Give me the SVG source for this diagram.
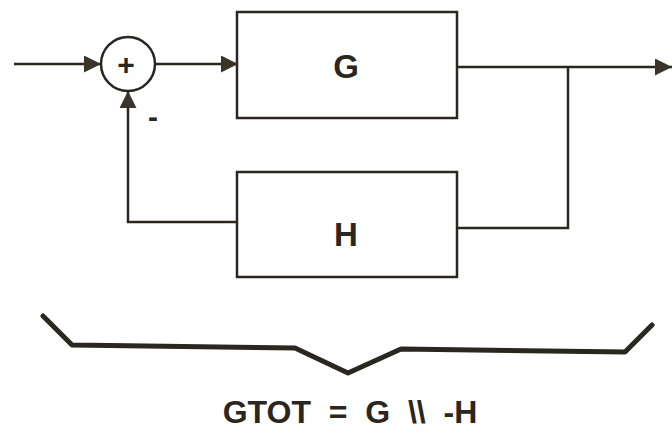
<svg xmlns="http://www.w3.org/2000/svg" width="672" height="433" viewBox="0 0 672 433">
<defs>
<marker id="arr" viewBox="0 0 10 10" refX="10" refY="5" markerWidth="18" markerHeight="17" markerUnits="userSpaceOnUse" orient="auto">
<path d="M0,0 L10,5 L0,10 z" fill="#3a3528"/>
</marker>
<style>
.ln{fill:none;stroke:#2a2620;stroke-width:2.5}
.bx{fill:#fff;stroke:#2a2620;stroke-width:2.5}
.t{font-family:"Liberation Sans",Arial,sans-serif;font-weight:bold;fill:#2a2620;text-anchor:middle}
</style>
</defs>
<rect width="672" height="433" fill="#fff"/>
<g id="connectors">
<line class="ln" x1="14" y1="64" x2="101" y2="64" marker-end="url(#arr)"/>
<line class="ln" x1="156" y1="64" x2="238" y2="64" marker-end="url(#arr)"/>
<line class="ln" x1="457" y1="67" x2="672" y2="67" marker-end="url(#arr)"/>
<polyline class="ln" points="568,67 568,228 457,228"/>
<polyline class="ln" points="237,222 128,222 128,91" marker-end="url(#arr)"/>
</g>
<g id="sum">
<circle class="ln" cx="128" cy="64" r="27"/>
<text class="t" x="126" y="75" font-size="30">+</text>
<text class="t" x="153" y="127" font-size="30">-</text>
</g>
<g id="G">
<rect class="bx" x="237" y="12" width="220" height="106"/>
<text class="t" x="346" y="78" font-size="33">G</text>
</g>
<g id="H">
<rect class="bx" x="237" y="172" width="220" height="105"/>
<text class="t" x="346" y="246" font-size="33">H</text>
</g>
<g id="brace">
<polyline points="43,316 72,345 295,348 348,373 401,349 625,352 652,325" fill="none" stroke="#2a2620" stroke-width="5" stroke-linejoin="round" stroke-linecap="round"/>
</g>
<g id="label">
<text class="t" x="350" y="423" font-size="32" xml:space="preserve">GTOT  =  G  \\  -H</text>
</g>
</svg>
